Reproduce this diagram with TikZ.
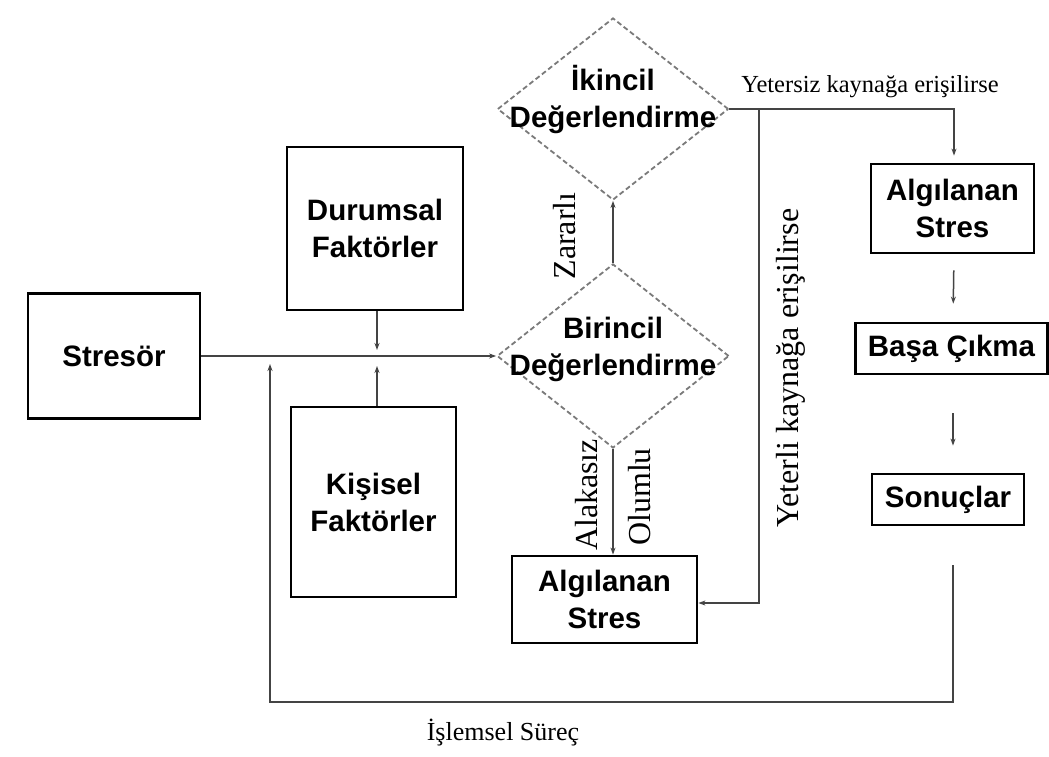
\documentclass[tikz,border=0pt]{standalone}
\usepackage{fontspec}
\setmainfont{Liberation Serif}
\newfontfamily\boxfont{Liberation Sans}
\usetikzlibrary{shapes.geometric,arrows.meta}
\definecolor{conn}{HTML}{444444}
\definecolor{dashc}{HTML}{7A7A7A}
\begin{document}
\begin{tikzpicture}[x=1pt,y=-1pt,
  box/.style={draw=black,line width=2.8pt,rectangle,inner sep=0pt,align=center,
    font=\boxfont\bfseries\fontsize{29.5}{37}\selectfont},
  dia/.style={draw=dashc,line width=1.8pt,dash pattern=on 5pt off 3pt,diamond,inner sep=0pt},
  diatext/.style={align=center,font=\boxfont\bfseries\fontsize{29.5}{37}\selectfont,inner sep=0pt},
  conn/.style={draw=conn,line width=1.5pt},
  arr/.style={conn,-{Stealth[length=7pt,width=5pt]}},
  lbl/.style={font=\fontsize{32}{34}\selectfont,inner sep=0pt},
  toplbl/.style={font=\fontsize{24.5}{27}\selectfont,inner sep=0pt}
]
\useasboundingbox[fill=white] (0,0) rectangle (1049,757);

% boxes
\node[box,minimum width=172,minimum height=125] (stresor) at (114,356) {Stresör};
\node[box,minimum width=176,minimum height=163] (durum) at (375,228.5) {Durumsal\\Faktörler};
\node[box,minimum width=165,minimum height=190] (kisi) at (373.5,502) {Kişisel\\Faktörler};
\node[box,minimum width=185,minimum height=87] (alg1) at (604.5,599.5) {Algılanan\\Stres};
\node[box,minimum width=163,minimum height=89] (alg2) at (952.5,208.5) {Algılanan\\Stres};
\node[box,minimum width=192,minimum height=51] (basa) at (951.5,348.5) {Başa Çıkma};
\node[box,minimum width=152,minimum height=51] (sonuc) at (948,499.5) {Sonuçlar};

% diamonds
\node[dia,minimum width=232,minimum height=184] (bir) at (613,356) {};
\node[diatext] at (613,349) {Birincil\\Değerlendirme};
\node[dia,minimum width=231,minimum height=182] (iki) at (613,109) {};
\node[diatext] at (613,99) {İkincil\\Değerlendirme};

% helper coordinates
\coordinate (jd) at (377,350);
\coordinate (jk) at (377,366);
\coordinate (fbs) at (953,565);
\coordinate (fbc) at (270,702);
\coordinate (fbe) at (270,364);
\coordinate (rt) at (954,109);
\coordinate (br) at (759,109);
\coordinate (brb) at (759,603);

% connectors
\draw[arr] (stresor.east) -- (bir.west);
\draw[arr] (durum.south) ++(2,0) -- (jd);
\draw[arr] (kisi.north) ++(3.5,0) -- (jk);
\draw[arr] (fbs) |- (fbc) -- (fbe);
\draw[arr] (bir.north) -- (iki.south);
\draw[arr] (bir.south) -- (bir.south |- alg1.north);
\draw[arr,shorten >=7pt] (iki.east) -- (rt) -- (rt |- alg2.north);
\draw[arr] (br) -- (brb) -- (alg1.east |- brb);
\draw[arr,shorten <=16pt,shorten >=18pt] (alg2.south) ++(1.5,0) -- ([xshift=1.5pt]basa.north);
\draw[arr,shorten <=38pt,shorten >=27pt] (basa.south) ++(1.5,0) -- ([xshift=5pt]sonuc.north);

% labels
\node[toplbl] (lyetersiz) at (870,87) {Yetersiz kaynağa erişilirse};
\node[lbl,rotate=90] (lzarar) at (565,236) {Zararlı};
\node[lbl,rotate=90] (lalaka) at (587,495) {Alakasız};
\node[lbl,rotate=90] (lolum) at (640,497) {Olumlu};
\node[lbl,rotate=90] (lyeterli) at (791,368) {Yeterli kaynağa erişilirse};
\node[font=\fontsize{26}{28}\selectfont,inner sep=0pt] (lsurec) at (503,733) {İşlemsel Süreç};
\end{tikzpicture}
\end{document}
